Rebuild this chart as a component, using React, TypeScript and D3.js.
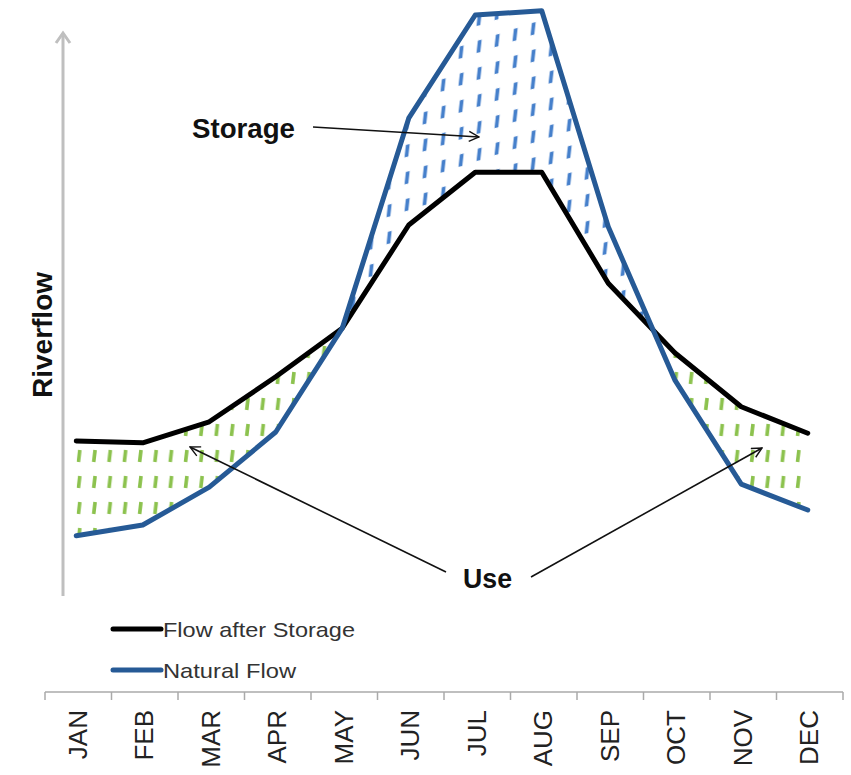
import * as d3 from "d3";

const MONTHS = ["JAN", "FEB", "MAR", "APR", "MAY", "JUN", "JUL", "AUG", "SEP", "OCT", "NOV", "DEC"];
const AFTER_STORAGE = [26.5, 26.2, 29.7, 37.2, 45.3, 62.5, 71.3, 71.3, 52.8, 41.2, 32.2, 27.8];
const NATURAL_FLOW = [10.7, 12.5, 18.8, 28.0, 45.3, 80.3, 97.5, 98.2, 62.2, 36.7, 19.3, 15.0];
const LEGEND = [
  { label: "Flow after Storage", color: "#000000", width: 192 },
  { label: "Natural Flow", color: "#265a96", width: 133 },
];

const WIDTH = 851;
const HEIGHT = 775;
const AXIS_Y = 692;
const FONT = "'Liberation Sans', Arial, sans-serif";

interface Pt {
  month: string;
  after: number;
  natural: number;
}

const rows: Pt[] = MONTHS.map((m, i) => ({ month: m, after: AFTER_STORAGE[i], natural: NATURAL_FLOW[i] }));

const band = d3.scaleBand<string>().domain(MONTHS).range([45, 843]);
const x = (m: string) => (band(m) ?? 0) + band.bandwidth() / 2 - 2;
const y = d3.scaleLinear().domain([0, 100]).range([600, 0]);

const afterLine = d3.line<Pt>().x((d) => x(d.month)).y((d) => y(d.after));
const naturalLine = d3.line<Pt>().x((d) => x(d.month)).y((d) => y(d.natural));
const between = d3
  .area<Pt>()
  .x((d) => x(d.month))
  .y0((d) => y(d.after))
  .y1((d) => y(d.natural));
// regions above / below the regulated flow, used as clips
const aboveAfter = d3.area<Pt>().x((d) => x(d.month)).y0(0).y1((d) => y(d.after));
const belowAfter = d3.area<Pt>().x((d) => x(d.month)).y0(HEIGHT).y1((d) => y(d.after));

function Arrow({ x1, y1, x2, y2 }: { x1: number; y1: number; x2: number; y2: number }) {
  return (
    <line x1={x1} y1={y1} x2={x2} y2={y2} stroke="#111" strokeWidth={1.6} markerEnd="url(#openArrow)" />
  );
}

export default function App() {
  return (
    <svg
      width={WIDTH}
      height={HEIGHT}
      viewBox={`0 0 ${WIDTH} ${HEIGHT}`}
      style={{ position: "absolute", left: 0, top: 0, background: "#fff" }}
      fontFamily={FONT}
    >
      <defs>
        <pattern id="blueDash" x={2} y={4} width={18} height={27} patternUnits="userSpaceOnUse" patternTransform="skewY(-18)">
          <line x1={9.8} y1={3} x2={8.4} y2={15} stroke="#4680cb" strokeWidth={3.8} />
        </pattern>
        <pattern id="greenDash" x={74} y={2} width={15.3} height={26} patternUnits="userSpaceOnUse">
          <line x1={5.8} y1={6} x2={4.4} y2={18} stroke="#8cc24e" strokeWidth={3.6} />
        </pattern>
        <clipPath id="clipAbove">
          <path d={aboveAfter(rows) ?? ""} />
        </clipPath>
        <clipPath id="clipBelow">
          <path d={belowAfter(rows) ?? ""} />
        </clipPath>
        <marker id="openArrow" viewBox="0 0 12 12" refX={11} refY={6} markerWidth={12} markerHeight={12} markerUnits="userSpaceOnUse" orient="auto">
          <path d="M1,1 L11,6 L1,11" fill="none" stroke="#111" strokeWidth={1.4} />
        </marker>
        <marker id="axisArrow" viewBox="0 0 20 20" refX={16} refY={10} markerWidth={20} markerHeight={20} markerUnits="userSpaceOnUse" orient="auto">
          <path d="M6,3 L16,10 L6,17" fill="none" stroke="#bfbfbf" strokeWidth={3} />
        </marker>
      </defs>

      {/* y axis arrow */}
      <line x1={63} y1={596} x2={63} y2={33} stroke="#bfbfbf" strokeWidth={3} markerEnd="url(#axisArrow)" />
      <text
        transform="translate(52,335) rotate(-90)"
        textAnchor="middle"
        fontSize={27}
        fontWeight="bold"
        fill="#111"
        textLength={126}
        lengthAdjust="spacingAndGlyphs"
      >
        Riverflow
      </text>

      {/* storage / use hatching */}
      <path d={between(rows) ?? ""} fill="url(#blueDash)" clipPath="url(#clipAbove)" />
      <path d={between(rows) ?? ""} fill="url(#greenDash)" clipPath="url(#clipBelow)" />

      {/* series */}
      <path d={afterLine(rows) ?? ""} fill="none" stroke="#000" strokeWidth={5} strokeLinejoin="round" strokeLinecap="round" />
      <path d={naturalLine(rows) ?? ""} fill="none" stroke="#265a96" strokeWidth={5} strokeLinejoin="round" strokeLinecap="round" />

      {/* annotations */}
      <text x={192} y={138} fontSize={27} fontWeight="bold" fill="#111" textLength={103} lengthAdjust="spacingAndGlyphs">Storage</text>
      <Arrow x1={313} y1={127} x2={479} y2={137} />
      <text x={463} y={588} fontSize={27} fontWeight="bold" fill="#111" textLength={49} lengthAdjust="spacingAndGlyphs">Use</text>
      <Arrow x1={446} y1={572} x2={190} y2={447} />
      <Arrow x1={531} y1={577} x2={762} y2={448} />

      {/* legend */}
      {LEGEND.map((l, i) => (
        <g key={l.label} transform={`translate(0,${629 + i * 41})`}>
          <line x1={113} x2={161} y1={0} y2={0} stroke={l.color} strokeWidth={5} strokeLinecap="round" />
          <text x={163} y={0} dy="0.36em" fontSize={21} fill="#333" textLength={l.width} lengthAdjust="spacingAndGlyphs">
            {l.label}
          </text>
        </g>
      ))}

      {/* x axis */}
      <line x1={45} x2={843} y1={AXIS_Y} y2={AXIS_Y} stroke="#aaa" strokeWidth={1.5} />
      {[...MONTHS.map((m) => band(m) ?? 0), 843].map((t, i) => (
        <line key={i} x1={t} x2={t} y1={AXIS_Y} y2={AXIS_Y + 8} stroke="#aaa" strokeWidth={1.5} />
      ))}
      {MONTHS.map((m) => (
        <text
          key={m}
          transform={`translate(${(band(m) ?? 0) + band.bandwidth() / 2 - 1},710) rotate(-90)`}
          textAnchor="end"
          dy="0.36em"
          fontSize={26}
          fill="#222"
        >
          {m}
        </text>
      ))}
    </svg>
  );
}
